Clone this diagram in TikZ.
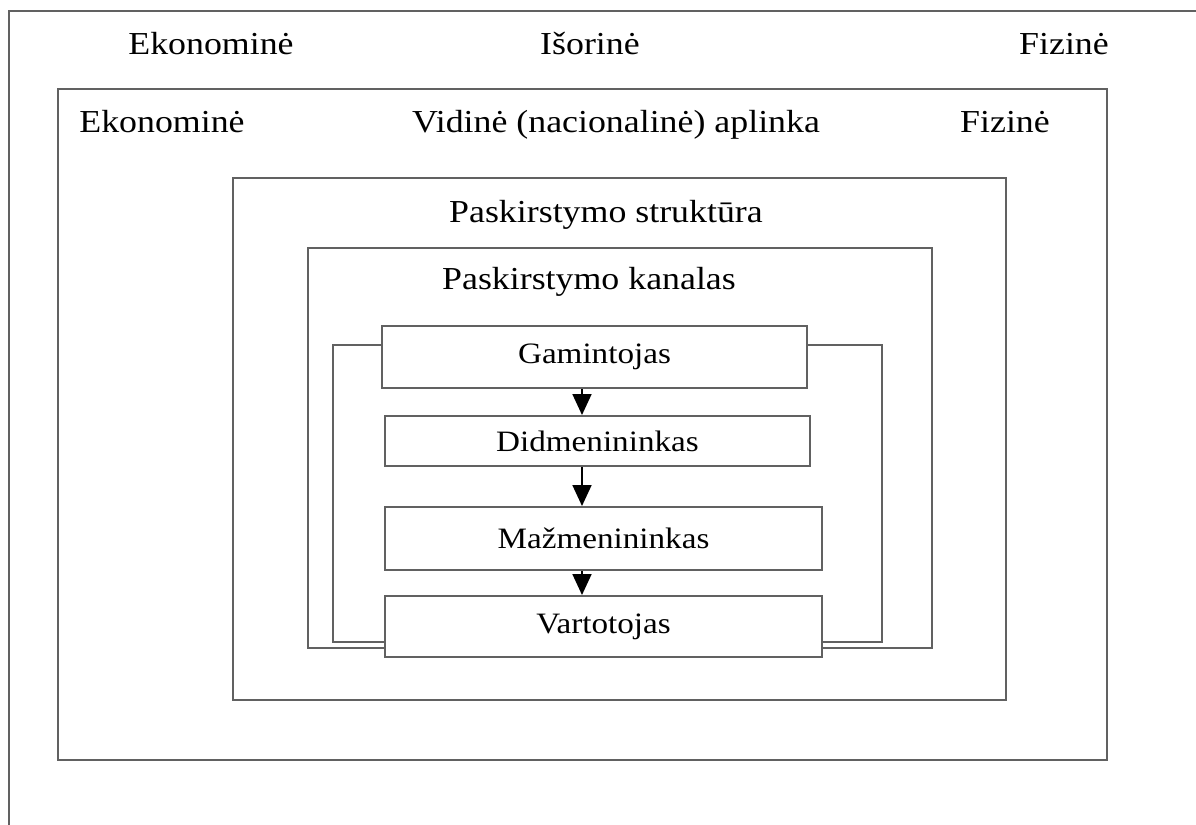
\documentclass[tikz,border=0pt]{standalone}
\usepackage{fontspec}
\setmainfont{Liberation Serif}[FakeStretch=1.12]
\usetikzlibrary{arrows.meta, calc}

\begin{document}
\begin{tikzpicture}[
      x=0.5pt, y=-0.5pt,
      frame/.style={draw=black!62, line width=1pt},
      level/.style={font=\fontsize{16}{19}\selectfont, text height=11pt, text depth=3.5pt},
      member/.style={rectangle, draw=black!62, line width=1pt, fill=white, inner sep=0pt, font=\fontsize{14.8}{18}\selectfont},
      flow/.style={line width=0.9pt, -{Triangle[length=10.5pt, width=9.5pt]}}
    ]

    \useasboundingbox (0,0) rectangle (1196,825);

    % Draw environment frames
    % Outer frame runs off the page to the right and bottom
    \draw[frame] (9,825) -- (9,11) -- (1196,11);
    \draw[frame] (58,89) rectangle (1107,760);
    \draw[frame] (233,178) rectangle (1006,700);
    \draw[frame] (308,248) rectangle (932,648);
    \draw[frame] (333,345) rectangle (882,642);

    % Environment labels
    \node[level] (econOuter) at (211,47) {Ekonominė};
    \node[level] (outer) at (590,47) {Išorinė};
    \node[level] (physOuter) at (1064,47) {Fizinė};
    \node[level] (econInner) at (162,125) {Ekonominė};
    \node[level] (inner) at (616,125) {Vidinė (nacionalinė) aplinka};
    \node[level] (physInner) at (1005,125) {Fizinė};
    \node[level] (structure) at (606,215) {Paskirstymo struktūra};
    \node[level] (channel) at (589,282) {Paskirstymo kanalas};

    % Channel members
    \node[member, minimum width=212.5pt, minimum height=31pt] (gam) at (594.5,357) {Gamintojas};
    \node[member, minimum width=212.5pt, minimum height=25pt] (did) at (597.5,441) {Didmenininkas};
    \node[member, minimum width=218.5pt, minimum height=31.5pt] (maz) at (603.5,538.5) {Mažmenininkas};
    \node[member, minimum width=218.5pt, minimum height=30.5pt] (var) at (603.5,626.5) {Vartotojas};

    % Draw flow arrows
    \coordinate (axis) at (582,0);
    \draw[flow] (gam.south -| axis) -- (did.north -| axis);
    \draw[flow] (did.south -| axis) -- (maz.north -| axis);
    \draw[flow] (maz.south -| axis) -- (var.north -| axis);

  \end{tikzpicture}
\end{document}
